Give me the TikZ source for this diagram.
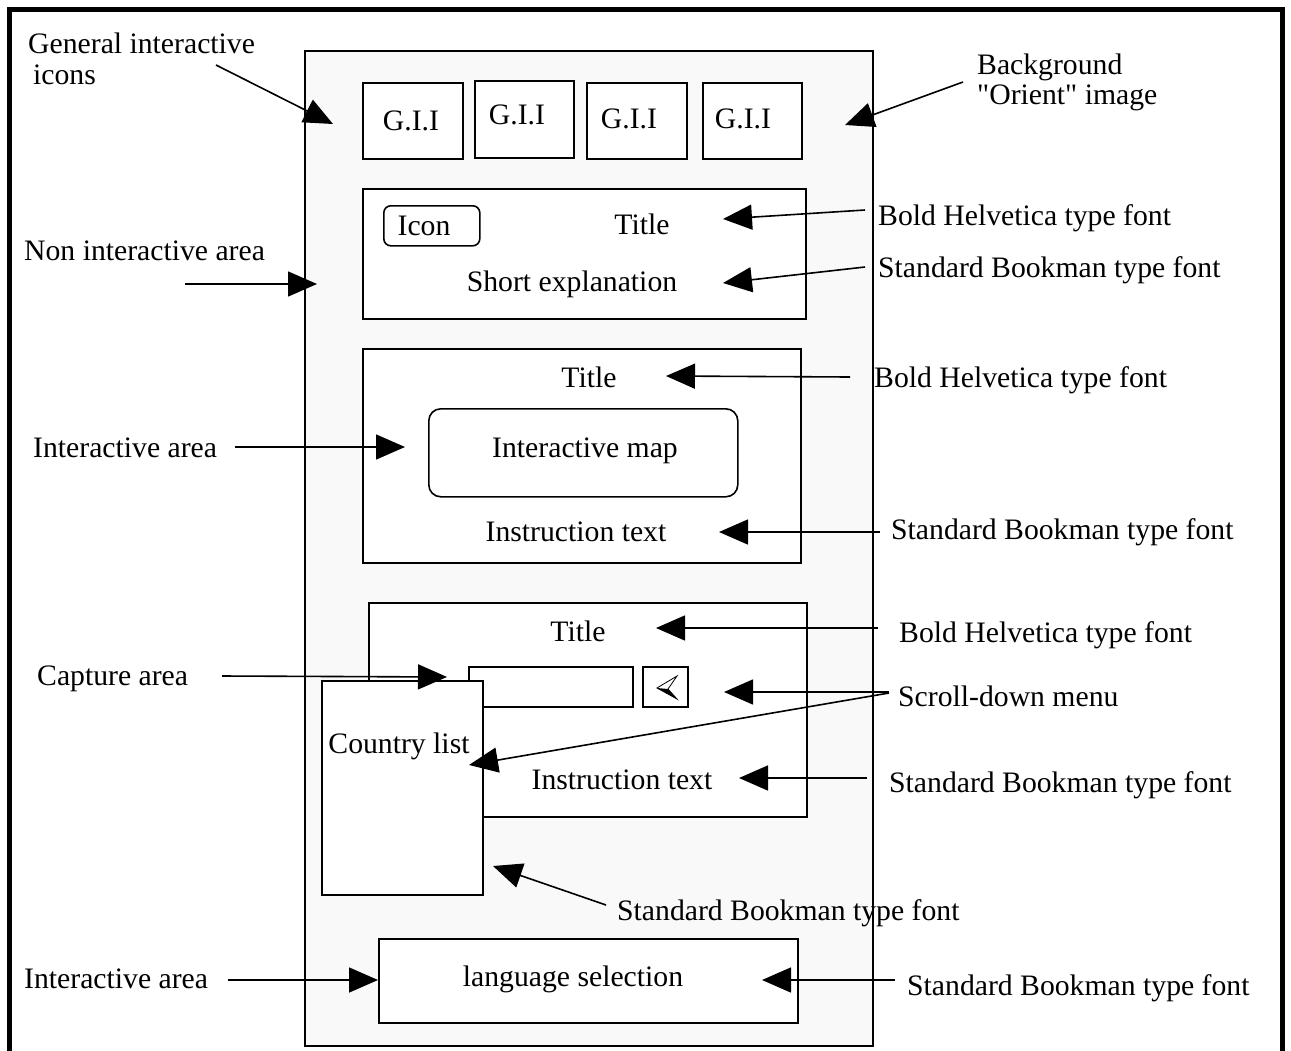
\documentclass[tikz,border=0pt]{standalone}
\usepackage{fontspec}
\setmainfont{Liberation Serif}[Ligatures=TeXOff]
\usetikzlibrary{arrows.meta}
\definecolor{panelgray}{RGB}{249,249,249}
\begin{document}
\begin{tikzpicture}[x=1pt,y=-1pt,
  box/.style={draw,line width=1.6pt,fill=white,anchor=north west,inner sep=0pt},
  lbl/.style={font=\fontsize{29.7}{33}\selectfont,inner sep=0pt,anchor=base west},
  txt/.style={font=\fontsize{29.7}{33}\selectfont,inner sep=0pt,anchor=base},
  ann/.style={line width=1.6pt,-{Triangle[length=29pt,width=25pt]}},
]
\useasboundingbox (0,0) rectangle (1291,1050);
\clip (0,0) rectangle (1291,1050);
% outer frame
\draw[line width=5pt] (9.5,1070) -- (9.5,9.5) -- (1282.5,9.5) -- (1282.5,1070);
% main panel
\node[box,fill=panelgray,minimum width=568pt,minimum height=995pt] (panel) at (304,50) {};
% general interactive icons
\node[box,minimum width=100pt,minimum height=76pt] (gii1) at (362,82) {};
\node[box,minimum width=99pt,minimum height=77pt] (gii2) at (474,80) {};
\node[box,minimum width=100pt,minimum height=76pt] (gii3) at (586,82) {};
\node[box,minimum width=99pt,minimum height=76pt] (gii4) at (702,82) {};
\node[txt] (t1) at (411,130) {G.I.I};
\node[txt] (t2) at (517,124) {G.I.I};
\node[txt] (t3) at (629,128) {G.I.I};
\node[txt] (t4) at (743,128) {G.I.I};
% header box
\node[box,minimum width=443pt,minimum height=130pt] (head) at (362,188) {};
\node[box,rounded corners=7pt,minimum width=96pt,minimum height=40pt] (icon) at (383,205) {};
\node[txt] (ticon) at (424,235) {Icon};
\node[txt] (thtitle) at (642,234) {Title};
\node[txt] (tshort) at (572,291) {Short explanation};
% map box
\node[box,minimum width=438pt,minimum height=214pt] (mapbox) at (362,348) {};
\node[box,rounded corners=12pt,minimum width=309pt,minimum height=88pt] (imap) at (428,408) {};
\node[txt] (tmtitle) at (589,387) {Title};
\node[txt] (tmap) at (585,457) {Interactive map};
\node[txt] (tminst) at (576,541) {Instruction text};
% capture box
\node[box,minimum width=438pt,minimum height=214pt] (capt) at (368,602) {};
\node[box,minimum width=164pt,minimum height=40pt] (field) at (468,666) {};
\node[box,minimum width=45pt,minimum height=40pt] (btn) at (642,666) {};
\draw[line width=0.8pt] (677,676) -- (657,688) -- (677,699) -- (668,689) -- cycle;
\fill (657,688) -- (677,699) -- (668,689) -- cycle;
\node[txt] (tctitle) at (578,641) {Title};
\node[txt] (tcinst) at (622,789) {Instruction text};
\node[box,minimum width=161pt,minimum height=214pt] (clist) at (321,680) {};
\node[txt] (tclist) at (399,753) {Country list};
% language box
\node[box,minimum width=419pt,minimum height=84pt] (lang) at (378,938) {};
\node[txt] (tlang) at (573,986) {language selection};
% annotation labels
\node[lbl] (lgii) at (28,53) {General interactive};
\node[lbl] (lgii2) at (33,84) {icons};
\node[lbl] (lbg) at (977,74) {Background};
\node[lbl] (lbg2) at (977,104) {"Orient" image};
\node[lbl] (lnon) at (24,260) {Non interactive area};
\node[lbl] (lb1) at (878,225) {Bold Helvetica type font};
\node[lbl] (ls1) at (878,277) {Standard Bookman type font};
\node[lbl] (lb2) at (874,387) {Bold Helvetica type font};
\node[lbl] (lia1) at (33,457) {Interactive area};
\node[lbl] (ls2) at (891,539) {Standard Bookman type font};
\node[lbl] (lb3) at (899,642) {Bold Helvetica type font};
\node[lbl] (lcap) at (37,685) {Capture area};
\node[lbl] (lscr) at (898,706) {Scroll-down menu};
\node[lbl] (ls3) at (889,792) {Standard Bookman type font};
\node[lbl] (ls4) at (617,920) {Standard Bookman type font};
\node[lbl] (lia2) at (24,988) {Interactive area};
\node[lbl] (ls5) at (907,995) {Standard Bookman type font};
% arrow end points
\coordinate (a1s) at (216,65);   \coordinate (a1e) at (333,124);
\coordinate (a2s) at (963,82);   \coordinate (a2e) at (845,125);
\coordinate (a3s) at (185,284);  \coordinate (a3e) at (317,284);
\coordinate (a4s) at (865,210);  \coordinate (a4e) at (723,219);
\coordinate (a5s) at (865,267);  \coordinate (a5e) at (723,283);
\coordinate (a6s) at (850,377);  \coordinate (a6e) at (666,376);
\coordinate (a7s) at (235,447);  \coordinate (a7e) at (405,447);
\coordinate (a8s) at (880,532);  \coordinate (a8e) at (719,532);
\coordinate (a9s) at (878,628);  \coordinate (a9e) at (656,628);
\coordinate (a10s) at (222,676); \coordinate (a10e) at (447,677);
\coordinate (a11s) at (889,692); \coordinate (a11e) at (724,692);
\coordinate (a12s) at (889,693); \coordinate (a12e) at (469,765);
\coordinate (a13s) at (867,778); \coordinate (a13e) at (739,778);
\coordinate (a14s) at (606,905); \coordinate (a14e) at (493,866);
\coordinate (a15s) at (228,980); \coordinate (a15e) at (378,980);
\coordinate (a16s) at (895,980); \coordinate (a16e) at (762,980);
\foreach \i in {1,...,16} {\draw[ann] (a\i s) -- (a\i e);}
\end{tikzpicture}
\end{document}
